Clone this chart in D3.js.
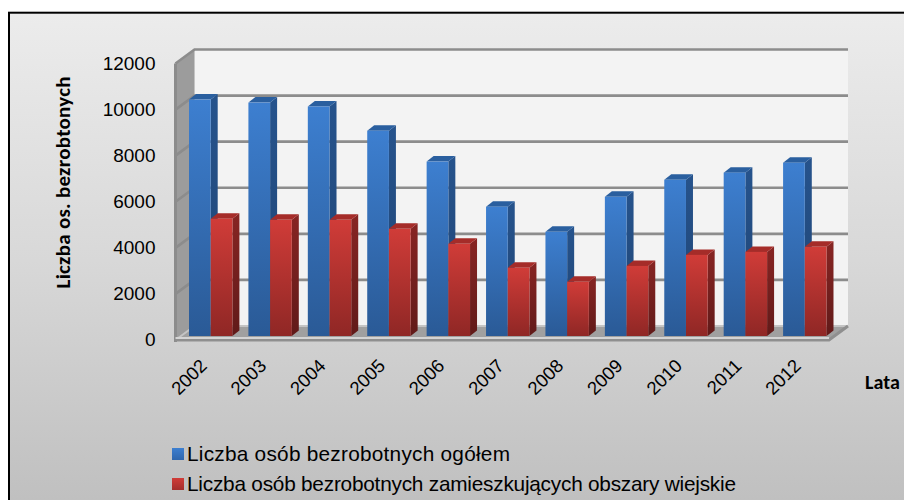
<!DOCTYPE html>
<html>
<head>
<meta charset="utf-8">
<script src="https://cdn.jsdelivr.net/npm/d3@7/dist/d3.min.js"></script>
<style>
html,body{margin:0;padding:0;background:#fff;}
svg{display:block;}
text{font-family:"Liberation Sans",Arial,sans-serif;fill:#000;}
</style>
</head>
<body>
<div id="chart"></div>
<script>
// unemployment counts
const years = ["2002","2003","2004","2005","2006","2007","2008","2009","2010","2011","2012"];
const totalValues = [10260,10130,9960,8910,7570,5610,4520,6040,6780,7090,7520];
const ruralValues = [5090,5040,5040,4650,4000,2960,2350,3040,3520,3650,3870];
const yTicks = [0,2000,4000,6000,8000,10000,12000];
const seriesNames = ["Liczba osób bezrobotnych ogółem","Liczba osób bezrobotnych zamieszkujących obszary wiejskie"];

const width = 904, height = 500;
const svg = d3.select("#chart").append("svg").attr("width",width).attr("height",height);
const defs = svg.append("defs");

function grad(id, stops){
  const g = defs.append("linearGradient").attr("id",id)
    .attr("x1",0).attr("y1",0).attr("x2",0).attr("y2",1);
  stops.forEach((c,i)=>g.append("stop").attr("offset",i/(stops.length-1)).attr("stop-color",c));
}
grad("bg",["#ececec","#d8d8d8","#bfbfbf"]);
grad("blueFront",["#3d7fd0","#2a5a96"]);
grad("redFront",["#d03c38","#8f2725"]);
grad("blueSide",["#26538c","#1f4474"]);
grad("redSide",["#872523","#611a19"]);
grad("blueLeg",["#3d7fd0","#2f66ad"]);
grad("redLeg",["#d03c38","#a32e2b"]);

// 3d offset of the back wall against the front plane
const depth = {dx:19, dy:-14};
const barDepth = {dx:7, dy:-5.5};
const barInset = 4; // bars stand a little inside the floor plate

const y = d3.scaleLinear().domain([0,12000]).range([340,63.5]);
const x = d3.scaleBand().domain(years).range([175.5,829]).paddingInner(0).paddingOuter(0);
const barW = 21.7;

const line = d3.line();
const poly = (pts,fill,g) => g.append("path").attr("d",line(pts)+"Z").attr("fill",fill);

// chart frame, runs off the right and bottom of the picture
svg.append("rect").attr("x",9).attr("y",12.7).attr("width",900).attr("height",495)
  .attr("fill","url(#bg)").attr("stroke","#000").attr("stroke-width",2);

const walls = svg.append("g");
const left = x.range()[0], right = x.range()[1];

// back wall
poly([[left+depth.dx,y(12000)+depth.dy],[right+depth.dx,y(12000)+depth.dy],
      [right+depth.dx,y(0)+depth.dy],[left+depth.dx,y(0)+depth.dy]],"#f3f3f3",walls);
// side wall
poly([[left,y(12000)],[left+depth.dx,y(12000)+depth.dy],
      [left+depth.dx,y(0)+depth.dy],[left,y(0)]],"#9c9c9c",walls);
// floor
poly([[left,y(0)],[left+depth.dx,y(0)+depth.dy],
      [right+depth.dx,y(0)+depth.dy],[right,y(0)]],"#a0a0a0",walls);

// grid lines on wall
const gridColor = "#8c8c8c";
yTicks.forEach(t=>{
  walls.append("path")
    .attr("d",line([[left,y(t)],[left+depth.dx,y(t)+depth.dy],[right+depth.dx,y(t)+depth.dy]]))
    .attr("fill","none").attr("stroke",t===0?"#c4c4c4":gridColor).attr("stroke-width",t===0?2:2.6);
});
// left front edge and floor plate
walls.append("path").attr("d",line([[left,y(12000)],[left,y(0)+2]]))
  .attr("stroke",gridColor).attr("stroke-width",3).attr("fill","none");
walls.append("path").attr("d",line([[left,y(0)],[right,y(0)],[right+depth.dx,y(0)+depth.dy]]))
  .attr("stroke","#8f8f8f").attr("stroke-width",3).attr("fill","none");
walls.append("path").attr("d",line([[left,y(0)-2],[right,y(0)-2]]))
  .attr("stroke","#d4d4d4").attr("stroke-width",2).attr("fill","none");

// bars, rural series drawn after total so its front overlaps the dark side
function bar(g,x0,val,front,side,top){
  const yt = y(val)-barInset, yb = y(0)-barInset;
  const x1 = x0+barW;
  poly([[x1,yt],[x1+barDepth.dx,yt+barDepth.dy],[x1+barDepth.dx,yb+barDepth.dy],[x1,yb]],side,g);
  poly([[x0,yt],[x0+barDepth.dx,yt+barDepth.dy],[x1+barDepth.dx,yt+barDepth.dy],[x1,yt]],top,g);
  g.append("rect").attr("x",x0).attr("y",yt).attr("width",barW).attr("height",yb-yt).attr("fill",front);
}
const bars = svg.append("g");
years.forEach((yr,i)=>{
  const x0 = x(yr)+13.5;
  bar(bars,x0,totalValues[i],"url(#blueFront)","url(#blueSide)","#2a5f9f");
  bar(bars,x0+barW,ruralValues[i],"url(#redFront)","url(#redSide)","#a52c29");
});

// axis labels
svg.append("g").selectAll("text").data(yTicks).join("text")
  .attr("x",155.5).attr("y",d=>y(d)+6).attr("text-anchor","end")
  .attr("font-size",19).text(d=>d);

svg.append("g").selectAll("text").data(years).join("text")
  .attr("text-anchor","end").attr("font-size",18.5)
  .attr("transform",d=>`translate(${x(d)+32.5},${y(0)+27}) rotate(-45)`)
  .text(d=>d);

svg.append("text").attr("transform","translate(70,182.5) rotate(-90)")
  .attr("text-anchor","middle").attr("font-size",21).attr("font-weight","bold")
  .attr("textLength",212)
  .style("font-family","Carlito,'Open Sans',sans-serif")
  .text("Liczba os. bezrobtonych");
svg.append("text").attr("x",865).attr("y",389).attr("font-size",20).attr("font-weight","bold")
  .style("font-family","Carlito,'Open Sans',sans-serif").text("Lata");

// legend, both entries are fitted to the width they have in the picture
const legendLengths = [323,549];
const legend = svg.append("g");
seriesNames.forEach((name,i)=>{
  const ly = 461+i*30;
  legend.append("rect").attr("x",172).attr("y",ly-13).attr("width",12).attr("height",12)
    .attr("fill",i===0?"url(#blueLeg)":"url(#redLeg)");
  legend.append("text").attr("x",187).attr("y",ly).attr("font-size",20.8)
    .attr("textLength",legendLengths[i]).text(name);
});
</script>
</body>
</html>
